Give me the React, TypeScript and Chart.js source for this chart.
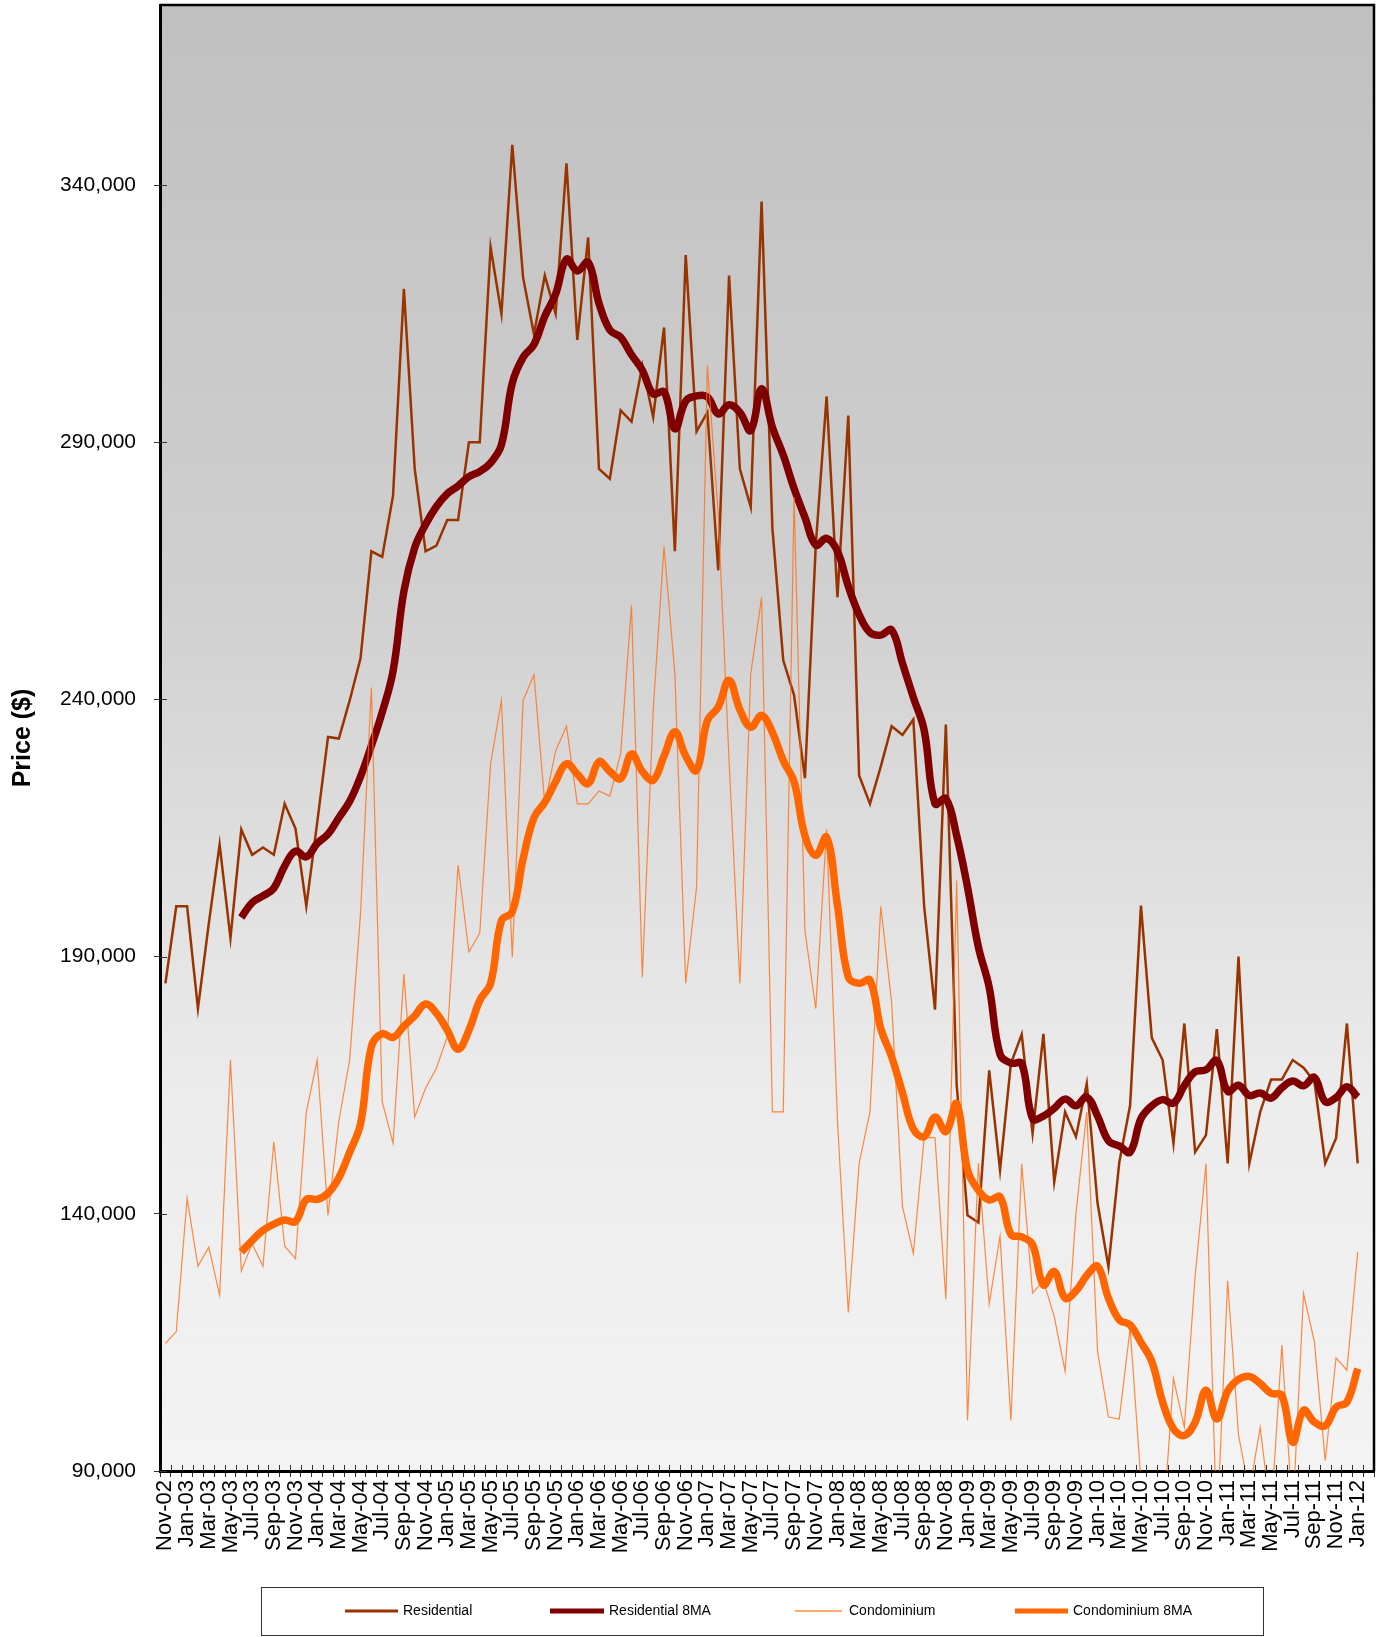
import React, { useEffect, useRef } from 'react';
import { Chart, registerables } from 'chart.js';

Chart.register(...registerables);

const FONT = '"Liberation Sans", Arial, Helvetica, sans-serif';

// Categories (one per month; the last, Feb-12, holds no data)
const MONTHS = [
  'Nov-02', 'Dec-02',
  'Jan-03', 'Feb-03', 'Mar-03', 'Apr-03', 'May-03', 'Jun-03', 'Jul-03', 'Aug-03', 'Sep-03', 'Oct-03', 'Nov-03', 'Dec-03',
  'Jan-04', 'Feb-04', 'Mar-04', 'Apr-04', 'May-04', 'Jun-04', 'Jul-04', 'Aug-04', 'Sep-04', 'Oct-04', 'Nov-04', 'Dec-04',
  'Jan-05', 'Feb-05', 'Mar-05', 'Apr-05', 'May-05', 'Jun-05', 'Jul-05', 'Aug-05', 'Sep-05', 'Oct-05', 'Nov-05', 'Dec-05',
  'Jan-06', 'Feb-06', 'Mar-06', 'Apr-06', 'May-06', 'Jun-06', 'Jul-06', 'Aug-06', 'Sep-06', 'Oct-06', 'Nov-06', 'Dec-06',
  'Jan-07', 'Feb-07', 'Mar-07', 'Apr-07', 'May-07', 'Jun-07', 'Jul-07', 'Aug-07', 'Sep-07', 'Oct-07', 'Nov-07', 'Dec-07',
  'Jan-08', 'Feb-08', 'Mar-08', 'Apr-08', 'May-08', 'Jun-08', 'Jul-08', 'Aug-08', 'Sep-08', 'Oct-08', 'Nov-08', 'Dec-08',
  'Jan-09', 'Feb-09', 'Mar-09', 'Apr-09', 'May-09', 'Jun-09', 'Jul-09', 'Aug-09', 'Sep-09', 'Oct-09', 'Nov-09', 'Dec-09',
  'Jan-10', 'Feb-10', 'Mar-10', 'Apr-10', 'May-10', 'Jun-10', 'Jul-10', 'Aug-10', 'Sep-10', 'Oct-10', 'Nov-10', 'Dec-10',
  'Jan-11', 'Feb-11', 'Mar-11', 'Apr-11', 'May-11', 'Jun-11', 'Jul-11', 'Aug-11', 'Sep-11', 'Oct-11', 'Nov-11', 'Dec-11',
  'Jan-12', 'Feb-12',
];

const Y_TICKS = [90000, 140000, 190000, 240000, 290000, 340000];
const Y_MIN = 90000;
const Y_MAX = 375000;

const SERIES_NAMES = ['Residential', 'Residential 8MA', 'Condominium', 'Condominium 8MA'];

const RESIDENTIAL = [
  184800, 199800, 199800, 179900, 196400, 211800, 193600, 214700, 209800, 211200,
  209800, 219700, 214900, 199800, 216000, 232700, 232400, 239800, 248000, 268800,
  267700, 279600, 319800, 284800, 268800, 269900, 274900, 274900, 290000, 290000,
  327900, 315000, 347800, 322000, 311000, 322400, 315000, 344200, 309900, 329800,
  284800, 282900, 296200, 294000, 304900, 294900, 312300, 268800, 326400, 292100,
  295800, 265100, 322400, 284800, 277400, 336800, 273200, 247600, 240800, 224700,
  270000, 298900, 259900, 295200, 225200, 219700, 227000, 234800, 233100, 236100,
  199700, 179700, 235100, 165000, 139700, 138300, 167900, 148500, 169200, 174900,
  155600, 175000, 146200, 159800, 155000, 165300, 142000, 129700, 150000, 161100,
  199900, 174200, 169900, 153700, 177000, 152000, 155300, 175900, 149800, 190000,
  149800, 159800, 166100, 166100, 169900, 168400, 165700, 149800, 154700, 177000,
  149800,
];

const RESIDENTIAL_8MA = [
  null, null, null, null, null, null, null, 197600, 200500, 201800,
  203300, 207600, 210500, 209400, 212000, 213800, 217000, 220200, 225000, 231000,
  237500, 245500, 261000, 269500, 274000, 277500, 280000, 281500, 283300, 284300,
  286000, 289500, 301500, 306500, 309000, 314500, 318800, 325600, 323300, 325000,
  317000, 311800, 310400, 307000, 304000, 299400, 299800, 292600, 298000, 299000,
  298800, 295500, 297300, 295800, 292300, 300400, 292900, 287500, 281000, 275400,
  270000, 271300, 268800, 262000, 256500, 253000, 252500, 253500, 247000, 240400,
  234000, 219700, 220700, 213500, 203500, 191900, 184000, 171000, 169300, 169200,
  158500, 159000, 160500, 162300, 161000, 162700, 159000, 154200, 153200, 152000,
  158500, 161000, 162200, 161500, 164900, 167600, 168000, 169800, 163800, 165000,
  163000, 163500, 162500, 164500, 165800, 164900, 166500, 161800, 162600, 164700,
  162700,
];

const CONDOMINIUM = [
  114800, 117100, 143000, 129800, 133500, 124200, 169900, 128900, 134200, 129800,
  154000, 133700, 131300, 159800, 169900, 139700, 158000, 170000, 198400, 242300,
  161800, 153700, 186600, 158800, 164400, 168300, 174400, 207800, 190900, 194600,
  227500, 239800, 189900, 239800, 244800, 219700, 230000, 234800, 219700, 219700,
  222200, 221200, 229500, 258300, 186000, 238000, 269700, 245000, 184800, 203500,
  304900, 276000, 228000, 184800, 245000, 259800, 159800, 159800, 279300, 195000,
  179900, 214700, 158000, 120800, 149800, 159800, 199800, 181000, 141400, 132300,
  154800, 154800, 123400, 204800, 99800, 149800, 122500, 135700, 99800, 149700,
  124600, 127000, 120000, 109400, 140000, 159800, 113200, 100500, 100100, 117800,
  88000, 76000, 78000, 108000, 98500, 128000, 149700, 78000, 127000, 97000,
  86000, 98500, 81000, 114500, 81000, 124500, 115100, 92000, 112000, 109600,
  132600,
];

const CONDOMINIUM_8MA = [
  null, null, null, null, null, null, null, 132600, 134800, 136800,
  138000, 138800, 138500, 142800, 142800, 144000, 147000, 152000, 157500, 172500,
  175000, 174300, 176500, 178500, 180800, 179000, 175700, 172000, 175700, 181500,
  184800, 197000, 198700, 209000, 217000, 220000, 224000, 227500, 225500, 223600,
  227900, 226000, 224600, 229400, 226000, 224300, 229000, 233700, 229000, 226200,
  235900, 238500, 243700, 238000, 234600, 236900, 233600, 228100, 224000, 213500,
  209700, 213200, 200000, 186000, 184800, 185400, 176000, 170500, 163500, 156500,
  155000, 158800, 156000, 161400, 148500, 144600, 142700, 143300, 136000, 135500,
  134000, 126200, 128800, 123600, 125000, 128000, 129800, 123600, 119400, 118400,
  115000, 111300, 103400, 98200, 96900, 99500, 105700, 100100, 105500, 107800,
  108400, 107000, 105100, 104700, 95600, 101800, 99500, 98800, 102400, 103400,
  109900,
];

const LEGEND_WIDTHS = [3, 5, 1.5, 5];

export default function App() {
  const ref = useRef<HTMLCanvasElement | null>(null);

  useEffect(() => {
    document.body.style.margin = '0';
    const canvas = ref.current;
    if (!canvas) return;

    const decor = {
      id: 'decor',
      beforeDraw(chart: any) {
        const { ctx, chartArea: a } = chart;
        const g = ctx.createLinearGradient(0, a.top, 0, a.bottom);
        g.addColorStop(0, '#C0C0C0');
        g.addColorStop(0.405, '#D0D0D0');
        g.addColorStop(0.746, '#ECECEC');
        g.addColorStop(1, '#F3F3F3');
        ctx.save();
        ctx.fillStyle = g;
        ctx.fillRect(a.left, a.top, a.right - a.left, a.bottom - a.top);
        ctx.restore();
      },
      afterDraw(chart: any) {
        const { ctx, chartArea: a } = chart;
        const xs = chart.scales.x;
        const ys = chart.scales.y;
        ctx.save();
        // frame (top and right)
        ctx.strokeStyle = '#000';
        ctx.lineWidth = 2.5;
        ctx.beginPath();
        ctx.moveTo(a.left, a.top);
        ctx.lineTo(a.right, a.top);
        ctx.lineTo(a.right, a.bottom);
        ctx.stroke();
        // inner tick stubs
        ctx.strokeStyle = '#333';
        ctx.lineWidth = 1;
        ctx.beginPath();
        ys.ticks.forEach((t: any) => {
          const y = Math.round(ys.getPixelForValue(t.value)) + 0.5;
          ctx.moveTo(a.left, y);
          ctx.lineTo(a.left + 7, y);
        });
        const half = (xs.getPixelForValue(1) - xs.getPixelForValue(0)) / 2;
        for (let i = 1; i < MONTHS.length; i++) {
          const x = Math.round(xs.getPixelForValue(i) - half) + 0.5;
          ctx.moveTo(x, a.bottom);
          ctx.lineTo(x, a.bottom - 6);
        }
        ctx.stroke();

        // legend box
        const box = { left: 261.5, top: 1587.5, width: 1002, height: 48 };
        ctx.fillStyle = '#fff';
        ctx.fillRect(box.left, box.top, box.width, box.height);
        ctx.strokeStyle = '#333';
        ctx.lineWidth = 1;
        ctx.strokeRect(box.left, box.top, box.width, box.height);
        const items = [
          { x1: 345, x2: 398, tx: 403 },
          { x1: 550, x2: 604, tx: 609 },
          { x1: 795, x2: 842, tx: 849 },
          { x1: 1015, x2: 1068, tx: 1073 },
        ];
        const cy = 1611;
        ctx.font = `14px ${FONT}`;
        ctx.textBaseline = 'middle';
        ctx.textAlign = 'left';
        chart.data.datasets.forEach((ds: any, i: number) => {
          const it = items[i];
          ctx.strokeStyle = ds.borderColor;
          ctx.lineWidth = LEGEND_WIDTHS[i];
          ctx.lineCap = 'butt';
          ctx.beginPath();
          ctx.moveTo(it.x1, cy);
          ctx.lineTo(it.x2, cy);
          ctx.stroke();
          ctx.fillStyle = '#000';
          ctx.fillText(ds.label, it.tx, cy);
        });
        ctx.restore();
      },
    };

    const chart = new Chart(canvas, {
      type: 'line',
      data: {
        labels: MONTHS,
        datasets: [
          {
            label: SERIES_NAMES[0],
            data: RESIDENTIAL,
            borderColor: '#993300',
            borderWidth: 2.5,
            pointRadius: 0,
            tension: 0,
            order: 3,
          },
          {
            label: SERIES_NAMES[1],
            data: RESIDENTIAL_8MA,
            borderColor: '#800000',
            borderWidth: 7.5,
            pointRadius: 0,
            tension: 0.4,
            order: 2,
          },
          {
            label: SERIES_NAMES[2],
            data: CONDOMINIUM,
            borderColor: 'rgba(255,110,20,0.8)',
            borderWidth: 1.2,
            pointRadius: 0,
            tension: 0,
            order: 1,
          },
          {
            label: SERIES_NAMES[3],
            data: CONDOMINIUM_8MA,
            borderColor: '#FF6600',
            borderWidth: 7.5,
            pointRadius: 0,
            tension: 0.4,
            order: 0,
          },
        ],
      },
      options: {
        responsive: false,
        maintainAspectRatio: false,
        devicePixelRatio: 1,
        animation: false,
        layout: { padding: { left: 0, top: 5, right: 3, bottom: 0 } },
        plugins: {
          legend: { display: false },
          tooltip: { enabled: false },
        },
        scales: {
          x: {
            type: 'category',
            offset: true,
            grid: {
              offset: true,
              drawOnChartArea: false,
              drawTicks: true,
              tickLength: 6,
              color: '#333',
              lineWidth: 1,
            },
            border: { display: true, color: '#000', width: 3 },
            ticks: {
              autoSkip: false,
              maxRotation: 90,
              minRotation: 90,
              padding: 3,
              color: '#000',
              font: { family: FONT, size: 22 },
              callback: (_v: any, i: number) => (i % 2 === 0 ? MONTHS[i] : ''),
            },
            afterFit: (s: any) => {
              s.height = 166;
              s.paddingLeft = 0;
              s.paddingRight = 0;
            },
          },
          y: {
            type: 'linear',
            min: Y_MIN,
            max: Y_MAX,
            afterBuildTicks: (s: any) => {
              s.ticks = Y_TICKS.map((v) => ({ value: v }));
            },
            grid: {
              drawOnChartArea: false,
              drawTicks: true,
              tickLength: 6,
              color: '#333',
              lineWidth: 1,
            },
            border: { display: true, color: '#000', width: 3 },
            ticks: {
              padding: 18,
              color: '#000',
              font: { family: FONT, size: 21 },
              callback: (v: any) => Number(v).toLocaleString('en-US'),
            },
            title: {
              display: true,
              text: 'Price ($)',
              color: '#000',
              font: { family: FONT, size: 25, weight: 'bold' },
              padding: { top: 8, bottom: 0 },
            },
            afterFit: (s: any) => {
              s.width = 160;
              s.paddingTop = 0;
              s.paddingBottom = 0;
            },
          },
        },
      },
      plugins: [decor],
    });

    return () => {
      chart.destroy();
    };
  }, []);

  return (
    <canvas
      ref={ref}
      width={1377}
      height={1637}
      style={{ display: 'block', width: '1377px', height: '1637px' }}
    />
  );
}
